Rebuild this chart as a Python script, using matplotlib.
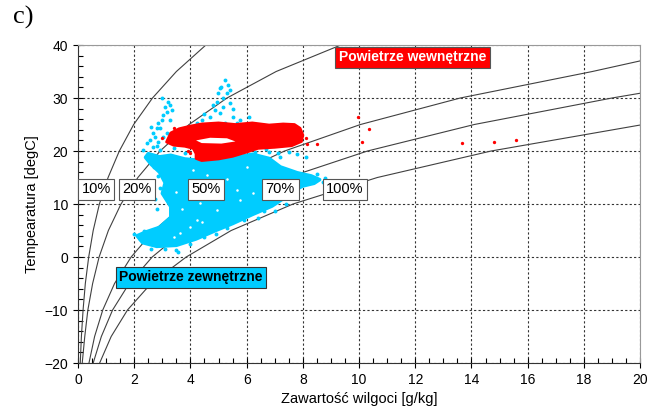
import numpy as np
import matplotlib
matplotlib.use("Agg")
import matplotlib.pyplot as plt
from matplotlib.ticker import MultipleLocator

plt.rcParams['font.family'] = ['Liberation Sans', 'DejaVu Sans']

# relative humidity curves, temperature [degC] vs moisture content [g/kg]
temp = [-20, -15, -10, -5, 0, 5, 10, 15, 20, 25, 30, 35, 40]
rh_10 = [0.08, 0.12, 0.18, 0.26, 0.38, 0.54, 0.76, 1.07, 1.47, 1.98, 2.65, 3.50, 4.55]
rh_20 = [0.15, 0.24, 0.35, 0.52, 0.75, 1.08, 1.53, 2.13, 2.92, 3.95, 5.30, 7.05, 9.35]
rh_50 = [0.39, 0.59, 0.88, 1.30, 1.89, 2.70, 3.82, 5.33, 7.35, 10.05, 13.6, 18.3]
rh_70 = [0.54, 0.83, 1.23, 1.82, 2.64, 3.78, 5.34, 7.46, 10.3, 14.1, 19.0]
rh_100 = [0.77, 1.18, 1.76, 2.60, 3.85, 5.45, 7.65, 10.65, 14.7]
curve_end = {'50%': (20.0, 37.0), '70%': (20.0, 30.9), '100%': (20.0, 24.9)}

rh_labels = ['10%', '20%', '50%', '70%', '100%']
rh_label_x = [0.64, 2.1, 4.55, 7.2, 9.5]
rh_label_t = [12.8, 12.8, 12.8, 12.8, 12.8]

# outdoor air - dense cloud outline
out_x = [2.5, 2.9, 3.3, 3.8, 4.4, 5.0, 5.6, 6.2, 6.8, 7.2, 7.8, 8.3, 8.6, 8.4, 8.0,
         7.6, 7.3, 6.9, 6.2, 5.5, 4.9, 4.2, 3.5, 2.8, 2.3, 2.1, 2.4, 2.9, 3.3, 3.3,
         3.0, 3.1, 2.9, 2.6, 2.4]
out_t = [19.5, 18.9, 19.2, 18.5, 18.2, 18.4, 18.8, 19.4, 18.6, 17.0, 15.9, 15.3, 14.6,
         13.9, 13.4, 12.3, 11.0, 9.6, 8.0, 6.3, 5.0, 3.4, 2.2, 2.0, 2.7, 4.0, 4.7, 5.6,
         7.5, 9.5, 12.0, 14.0, 16.0, 17.5, 18.8]

# gaps inside the outdoor cloud
gap_x = [4.23, 4.95, 5.77, 4.34, 4.7, 5.65, 6.23, 3.63, 3.99, 3.4, 4.6, 5.3, 6.6,
         7.2, 3.7, 4.1, 5.0, 6.0, 3.5, 4.4]
gap_t = [7.0, 8.9, 10.8, 10.2, 12.6, 12.6, 12.1, 4.5, 5.7, 3.8, 15.5, 14.8, 14.2,
         13.3, 9.0, 16.5, 11.4, 16.9, 12.3, 6.6]

# outdoor air - scattered points
pts_x = [5.23, 5.34, 5.05, 4.98, 5.3, 5.41, 5.16, 4.95, 4.8, 4.88, 5.05, 5.16, 5.41,
         5.52, 5.23, 5.66, 5.77, 4.7, 4.59, 4.41, 4.23, 4.09, 4.27,
         3.2, 3.27, 3.1, 3.35, 3.17, 3.02, 2.99, 2.85, 2.81, 2.92, 2.67, 2.74, 3.02,
         2.56, 2.85, 2.46, 2.67, 2.31, 2.49, 2.92, 3.17, 3.27,
         5.9, 6.3, 6.7, 7.1, 7.5, 7.8, 8.1, 6.0, 5.4, 4.6, 3.9, 3.6,
         8.7, 8.8, 8.5, 2.2, 2.0, 2.6, 2.35, 3.1, 4.0, 4.5, 5.9, 6.6, 7.7,
         5.1, 5.5, 4.5, 4.3, 3.9, 3.0, 2.8, 2.6, 3.4, 6.1, 5.9,
         2.8, 2.75, 2.9, 2.85, 2.7, 3.5, 3.55, 4.9, 5.3, 6.4, 7.0, 7.4, 4.7, 5.2,
         6.8, 7.2, 3.8, 4.4]
pts_t = [33.4, 32.5, 31.9, 30.9, 30.9, 31.5, 30.0, 29.2, 28.7, 27.7, 27.2, 28.3, 29.1,
         26.4, 25.3, 25.3, 25.8, 26.4, 24.9, 25.8, 25.3, 24.0, 23.4,
         29.2, 28.7, 28.3, 27.7, 27.4, 26.8, 25.8, 25.3, 24.3, 24.3, 23.4, 22.6, 22.6,
         22.1, 21.7, 21.5, 20.8, 20.2, 19.2, 20.2, 23.4, 25.8,
         20.1, 19.9, 20.3, 19.6, 19.9, 19.4, 18.8, 18.8, 19.0, 18.4, 18.3, 17.9,
         14.2, 15.0, 15.6, 3.4, 4.3, 1.6, 5.0, 1.5, 2.4, 3.8, 6.9, 8.6, 11.4,
         32.0, 28.0, 27.0, 23.9, 23.0, 30.0, 21.0, 24.6, 20.5, 26.5, 24.0,
         9.0, 11.0, 13.0, 15.2, 17.0, 1.4, 0.9, 4.3, 5.5, 7.3, 8.6, 10.0, 19.7, 19.9,
         19.8, 18.9, 19.6, 19.3]

# indoor air - dense cloud outline
in_x = [3.15, 3.3, 3.6, 4.0, 4.4, 5.0, 5.6, 6.2, 6.8, 7.3, 7.7, 7.9, 8.0, 7.95, 7.6,
        7.0, 6.4, 6.0, 5.5, 5.0, 4.4, 4.2, 4.2, 4.1, 3.8, 3.4]
in_t = [21.7, 23.4, 24.2, 24.7, 25.1, 25.3, 25.0, 25.3, 24.9, 25.1, 25.0, 24.3, 23.0,
        21.8, 21.0, 20.7, 20.5, 19.8, 19.0, 18.5, 18.2, 18.6, 19.5, 20.5, 20.9, 21.1]
hole_x = [4.2, 4.7, 5.3, 5.6, 5.1, 4.4]
hole_t = [22.0, 22.5, 22.4, 21.8, 21.4, 21.5]

# indoor air - single points
in_pts_x = [3.0, 3.4, 8.15, 8.5, 9.96, 10.36, 10.1, 13.67, 14.8, 15.6, 4.0, 3.9, 8.1]
in_pts_t = [22.5, 24.3, 21.3, 21.3, 26.4, 24.2, 21.7, 21.5, 21.7, 22.1, 19.6, 20.0, 22.4]

cyan = '#00CCFF'
red = '#FF0000'
line_col = '#404040'

fig = plt.figure(figsize=(6.64, 4.16), dpi=100)
ax = fig.add_axes([0.1175, 0.1274, 0.8465, 0.7644])

ax.set_xlim(0, 20)
ax.set_ylim(-20, 40)
ax.grid(True, which='major', linestyle=(0, (2, 2)), color='#333333', linewidth=0.8)
ax.set_axisbelow(True)

for xs, name in zip([rh_10, rh_20, rh_50, rh_70, rh_100], rh_labels):
    tt = temp[:len(xs)]
    xs = list(xs)
    if name in curve_end:
        xs = xs + [curve_end[name][0]]
        tt = tt + [curve_end[name][1]]
    ax.plot(xs, tt, color=line_col, linewidth=0.8, zorder=2)

ax.fill(out_x, out_t, facecolor=cyan, edgecolor=cyan, linewidth=2.5, joinstyle='round', zorder=3)
ax.plot(gap_x, gap_t, linestyle='none', marker='o', markersize=1.8, color='white',
        markeredgewidth=0, zorder=3)
ax.plot(pts_x, pts_t, linestyle='none', marker='o', markersize=2.8, color=cyan,
        markeredgewidth=0, zorder=3)

ax.fill(in_x, in_t, facecolor=red, edgecolor=red, linewidth=2, joinstyle='round', zorder=4)
ax.fill(hole_x, hole_t, facecolor='white', edgecolor='none', zorder=5)
ax.plot(in_pts_x, in_pts_t, linestyle='none', marker='o', markersize=2.4, color=red,
        markeredgewidth=0, zorder=4)

for lab, lx, lt in zip(rh_labels, rh_label_x, rh_label_t):
    ax.text(lx, lt, lab, ha='center', va='center', fontsize=10.5, zorder=6,
            bbox=dict(boxstyle='square,pad=0.25', facecolor='white', edgecolor='#555555', linewidth=0.8))

ax.text(11.9, 37.7, 'Powietrze wewnętrzne', ha='center', va='center', fontsize=10,
        fontweight='bold', color='white', zorder=6,
        bbox=dict(boxstyle='square,pad=0.25', facecolor=red, edgecolor='#555555', linewidth=0.8))
ax.text(4.02, -3.8, 'Powietrze zewnętrzne', ha='center', va='center', fontsize=10,
        fontweight='bold', color='black', zorder=6,
        bbox=dict(boxstyle='square,pad=0.25', facecolor=cyan, edgecolor='#333333', linewidth=0.8))

ax.xaxis.set_major_locator(MultipleLocator(2))
ax.xaxis.set_minor_locator(MultipleLocator(0.5))
ax.yaxis.set_major_locator(MultipleLocator(10))
ax.yaxis.set_minor_locator(MultipleLocator(2))
ax.tick_params(which='major', direction='inout', length=7, width=0.8, labelsize=10)
ax.tick_params(which='minor', direction='in', length=3.5, width=0.8)
for side in ['top', 'right']:
    ax.spines[side].set_color('#999999')
for side in ['left', 'bottom']:
    ax.spines[side].set_color('#333333')

ax.set_xlabel('Zawartość wilgoci [g/kg]', fontsize=10.5)
ax.set_ylabel('Tempearatura [degC]', fontsize=10.5, labelpad=4)

fig.text(0.02, 0.985, 'c)', fontsize=19, family=['Liberation Serif', 'DejaVu Serif'],
         ha='left', va='top')

fig.savefig('out.png', dpi=100)
